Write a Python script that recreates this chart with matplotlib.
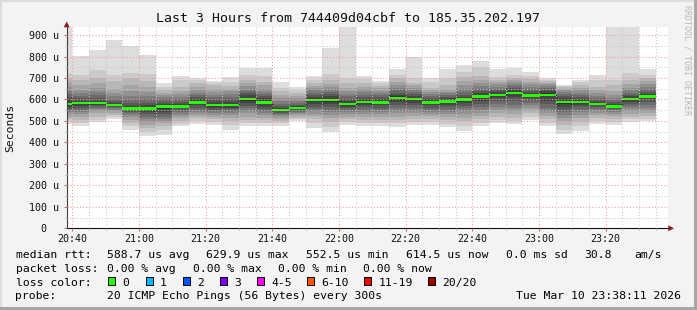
import matplotlib
matplotlib.use("Agg")
import matplotlib.pyplot as plt
from matplotlib.patches import Rectangle, Polygon
from matplotlib.ticker import MultipleLocator, FuncFormatter
import numpy as np

plt.rcParams['font.family'] = ['DejaVu Sans Mono']

# 5 minute slots, start in minutes after 20:00 (first slot is cut by the left edge)
slot_start = list(range(35, 215, 5))

# median rtt per slot (us)
median = [580, 583, 583, 575, 558, 558, 568, 568, 585, 575, 575, 602,
          586, 552, 560, 597, 597, 579, 588, 586, 608, 603, 586, 591,
          599, 614, 622, 630, 619, 622, 588, 588, 580, 568, 602, 614]

# the 20 sorted pings of each slot (us)
pings = [
    [486, 497, 508, 520, 530, 540, 548, 556, 565, 575, 585, 598, 610, 625, 640, 660, 680, 700, 725, 980],
    [475, 490, 505, 520, 532, 542, 552, 560, 570, 578, 588, 595, 605, 615, 630, 645, 668, 692, 715, 803],
    [493, 505, 520, 535, 545, 555, 562, 570, 576, 580, 586, 595, 605, 620, 637, 655, 675, 700, 738, 831],
    [510, 518, 527, 536, 545, 553, 560, 566, 571, 573, 577, 584, 592, 603, 614, 630, 650, 684, 715, 877],
    [456, 475, 490, 505, 517, 527, 535, 542, 549, 555, 561, 570, 582, 597, 615, 640, 668, 700, 723, 849],
    [428, 450, 467, 482, 495, 508, 520, 532, 543, 553, 563, 573, 585, 600, 617, 637, 660, 684, 720, 807],
    [436, 458, 475, 490, 500, 510, 520, 530, 542, 555, 570, 580, 590, 600, 610, 620, 632, 645, 660, 676],
    [475, 488, 500, 512, 522, 532, 542, 550, 558, 564, 572, 580, 590, 600, 612, 625, 640, 660, 692, 710],
    [487, 500, 512, 522, 532, 542, 552, 562, 572, 580, 590, 600, 610, 620, 632, 645, 660, 675, 690, 699],
    [483, 495, 507, 518, 528, 536, 544, 552, 560, 570, 580, 590, 600, 610, 622, 635, 650, 665, 678, 687],
    [459, 480, 500, 515, 527, 537, 546, 554, 562, 570, 580, 590, 600, 612, 625, 638, 650, 662, 680, 704],
    [475, 492, 506, 520, 535, 548, 560, 570, 582, 595, 609, 620, 630, 640, 650, 662, 675, 690, 715, 746],
    [478, 490, 503, 515, 526, 536, 546, 556, 566, 578, 594, 605, 615, 625, 637, 650, 665, 682, 710, 745],
    [478, 490, 500, 510, 518, 526, 532, 538, 544, 549, 555, 562, 570, 580, 592, 605, 620, 638, 655, 679],
    [498, 507, 515, 522, 530, 537, 543, 549, 554, 558, 562, 568, 576, 585, 595, 605, 617, 630, 645, 660],
    [469, 490, 510, 522, 534, 545, 556, 566, 578, 592, 602, 612, 622, 632, 642, 652, 662, 675, 690, 710],
    [447, 470, 495, 512, 526, 540, 553, 566, 578, 590, 604, 614, 624, 634, 645, 658, 672, 690, 720, 838],
    [483, 495, 508, 520, 530, 540, 550, 558, 566, 574, 584, 594, 604, 615, 627, 640, 655, 675, 700, 990],
    [475, 492, 506, 520, 532, 543, 553, 563, 573, 583, 593, 603, 613, 623, 635, 648, 660, 675, 695, 710],
    [475, 490, 505, 518, 530, 542, 552, 562, 572, 582, 590, 600, 610, 620, 630, 640, 652, 663, 675, 687],
    [470, 490, 506, 520, 535, 548, 560, 575, 590, 602, 614, 622, 632, 642, 655, 668, 683, 700, 715, 744],
    [483, 495, 510, 522, 535, 548, 560, 572, 585, 598, 608, 617, 626, 635, 645, 655, 665, 676, 700, 797],
    [483, 497, 510, 522, 533, 543, 552, 562, 572, 580, 592, 600, 608, 616, 625, 633, 642, 653, 680, 702],
    [470, 488, 505, 518, 530, 542, 553, 563, 573, 585, 597, 605, 612, 620, 628, 637, 650, 665, 700, 741],
    [455, 475, 498, 515, 530, 545, 558, 570, 582, 594, 604, 612, 622, 635, 650, 665, 685, 705, 730, 761],
    [475, 492, 508, 522, 535, 550, 565, 580, 595, 608, 620, 630, 640, 650, 662, 675, 690, 710, 750, 780],
    [491, 505, 520, 535, 550, 565, 580, 595, 608, 618, 626, 634, 642, 650, 660, 670, 680, 690, 705, 741],
    [486, 500, 515, 530, 545, 560, 575, 592, 610, 625, 635, 645, 655, 663, 672, 680, 690, 700, 712, 746],
    [506, 520, 535, 548, 560, 572, 584, 596, 607, 615, 623, 632, 641, 650, 660, 670, 682, 695, 710, 726],
    [475, 492, 508, 522, 535, 548, 562, 578, 595, 615, 628, 638, 646, 654, 662, 670, 678, 685, 692, 699],
    [439, 460, 480, 500, 515, 528, 540, 553, 566, 580, 595, 605, 615, 625, 635, 643, 650, 657, 662, 668],
    [455, 475, 495, 512, 526, 540, 552, 563, 573, 583, 593, 603, 613, 622, 632, 642, 653, 665, 680, 692],
    [486, 500, 513, 526, 538, 548, 557, 565, 572, 578, 583, 590, 598, 607, 617, 628, 642, 658, 690, 715],
    [483, 497, 510, 522, 532, 541, 549, 556, 562, 566, 571, 578, 586, 596, 608, 622, 640, 665, 692, 1000],
    [495, 508, 520, 532, 545, 558, 570, 580, 590, 598, 606, 614, 622, 632, 643, 655, 670, 690, 723, 1000],
    [498, 510, 522, 535, 548, 562, 576, 590, 602, 610, 618, 627, 637, 648, 660, 672, 685, 700, 715, 743],
]

title = "Last 3 Hours from 744409d04cbf to 185.35.202.197"
rtt_avg, rtt_max, rtt_min, rtt_now, rtt_sd, rtt_ams = 588.7, 629.9, 552.5, 614.5, 0.0, 30.8
loss_avg, loss_max, loss_min, loss_now = 0.00, 0.00, 0.00, 0.00
loss_labels = ['0', '1', '2', '3', '4-5', '6-10', '11-19', '20/20']
loss_colors = ['#26ff00', '#00b8ff', '#0059ff', '#7e00ff', '#ff00ff', '#ff5500', '#ff0000', '#a10000']
probe_text = "20 ICMP Echo Pings (56 Bytes) every 300s"
date_text = "Tue Mar 10 23:38:11 2026"

W, H = 697, 310


def fx(x):
    return x / W


def fy(y):
    return 1 - y / H


fig = plt.figure(figsize=(W / 100, H / 100), dpi=100, facecolor='#f3f3f3')

# 3d-ish frame like rrdtool
for (x0, y0, w, h, c) in [(0, 0, W, 2, '#dcdcdc'), (0, 0, 2, H, '#dcdcdc'),
                          (0, H - 3, W, 3, '#a6a6a6'), (W - 3, 0, 3, H, '#a6a6a6')]:
    fig.patches.append(Rectangle((fx(x0), fy(y0 + h)), w / W, h / H,
                                 transform=fig.transFigure, color=c, lw=0))

ax_l, ax_r, ax_t, ax_b = 66.7, 668.3, 27.3, 228.3
ax = fig.add_axes([fx(ax_l), fy(ax_b), (ax_r - ax_l) / W, (ax_b - ax_t) / H])
ax.set_facecolor('white')

x = np.array(slot_start, dtype=float)
p = np.array(pings, dtype=float)
med = np.array(median, dtype=float)

# smoke: band i spans ping i .. ping 21-i, darker toward the middle
for i in range(10):
    g = int(190 / 10 * (10 - (i + 1))) + 50
    col = '#%02x%02x%02x' % (g, g, g)
    lo = p[:, i]
    hi = p[:, 19 - i]
    ax.bar(x, hi - lo, bottom=lo, width=5, align='edge', color=col,
           linewidth=0, antialiased=False, zorder=1)

# median line + loss colour band
edges = np.append(x, x[-1] + 5)
ax.stairs(med, edges, baseline=None, color='#202020', linewidth=0.8, zorder=1.2)
sw = 5.5
ax.bar(x, 2 * sw, bottom=med - sw, width=5, align='edge', color=loss_colors[0],
       linewidth=0, antialiased=False, zorder=1.5)

ax.set_xlim(38.32, 218.79)
ax.set_ylim(0, 936)

ax.xaxis.set_major_locator(MultipleLocator(20))
ax.xaxis.set_minor_locator(MultipleLocator(5))
ax.yaxis.set_major_locator(MultipleLocator(100))
ax.yaxis.set_minor_locator(MultipleLocator(50))
ax.xaxis.set_major_formatter(FuncFormatter(
    lambda v, pos: "%02d:%02d" % (20 + int(v) // 60, int(v) % 60)))
ax.yaxis.set_major_formatter(FuncFormatter(
    lambda v, pos: "%d u" % v if v > 0 else "0  "))

ax.set_axisbelow(False)
ax.grid(which='minor', color='#c8c8c8', linestyle=(0, (1, 2)), linewidth=0.75)
ax.grid(which='major', color='#f29a9a', linestyle=(0, (1, 2)), linewidth=0.75)

for s in ['top', 'right']:
    ax.spines[s].set_visible(False)
ax.spines['left'].set_color('#404040')
ax.spines['bottom'].set_color('#101010')
ax.spines['left'].set_linewidth(0.8)
ax.spines['bottom'].set_linewidth(0.8)

ax.tick_params(which='major', length=2.2, width=0.7, color='#c06060', labelsize=7.2,
               labelcolor='#101010')
ax.tick_params(which='minor', length=1.5, width=0.7, color='#b0b0b0')
ax.tick_params(axis='x', which='major', pad=1.8)
ax.tick_params(axis='y', which='major', pad=3.0)

# axis arrows
fig.patches.append(Polygon([(fx(63.7), fy(27.3)), (fx(69.7), fy(27.3)), (fx(66.7), fy(21.5))],
                           closed=True, transform=fig.transFigure, color='#8b1a1a', lw=0))
fig.patches.append(Polygon([(fx(668.3), fy(225.3)), (fx(668.3), fy(231.3)), (fx(674), fy(228.3))],
                           closed=True, transform=fig.transFigure, color='#8b1a1a', lw=0))

fig.text(fx(348), fy(19), title, ha='center', va='center', fontsize=9.5, color='#101010')
fig.text(fx(10.5), fy(127.5), "Seconds", rotation=90, ha='center', va='center',
         fontsize=8.2, color='#101010')
fig.text(fx(686.5), fy(5), "RRDTOOL / TOBI OETIKER", rotation=270, ha='center', va='top',
         fontsize=6, color='#b8b8b8')

# legend rows
fs = 8.2
rows = [258.0, 272.0, 285.6, 299.4]
fig.text(fx(15.5), fy(rows[0]), "median rtt:", fontsize=fs, va='baseline')
rtt_items = [("%.1f us avg" % rtt_avg, 107), ("%.1f us max" % rtt_max, 206.5),
             ("%.1f us min" % rtt_min, 306.3), ("%.1f us now" % rtt_now, 406.3),
             ("%.1f ms sd" % rtt_sd, 506.3), ("%.1f" % rtt_ams, 584.5), ("am/s", 633.8)]
for txt, xp in rtt_items:
    fig.text(fx(xp), fy(rows[0]), txt, fontsize=fs, va='baseline')

fig.text(fx(15.5), fy(rows[1]), "packet loss:", fontsize=fs, va='baseline')
loss_items = [("%.2f %% avg" % loss_avg, 107), ("%.2f %% max" % loss_max, 192.6),
              ("%.2f %% min" % loss_min, 278.4), ("%.2f %% now" % loss_now, 363.3)]
for txt, xp in loss_items:
    fig.text(fx(xp), fy(rows[1]), txt, fontsize=fs, va='baseline')

fig.text(fx(15.5), fy(rows[2]), "loss color:", fontsize=fs, va='baseline')
sq_x = [108.3, 145.7, 182.7, 220, 256.7, 306.6, 364, 428.3]
for lab, col, sx in zip(loss_labels, loss_colors, sq_x):
    fig.patches.append(Rectangle((fx(sx), fy(284.5)), 7 / W, 7.5 / H,
                                 transform=fig.transFigure, facecolor=col,
                                 edgecolor='black', lw=0.7))
    fig.text(fx(sx + 14.3), fy(rows[2]), lab, fontsize=fs, va='baseline')

fig.text(fx(15.5), fy(rows[3]), "probe:", fontsize=fs, va='baseline')
fig.text(fx(107), fy(rows[3]), probe_text, fontsize=fs, va='baseline')
fig.text(fx(681), fy(rows[3]), date_text, fontsize=fs, va='baseline', ha='right')

fig.savefig("out.png", dpi=100, facecolor=fig.get_facecolor())
